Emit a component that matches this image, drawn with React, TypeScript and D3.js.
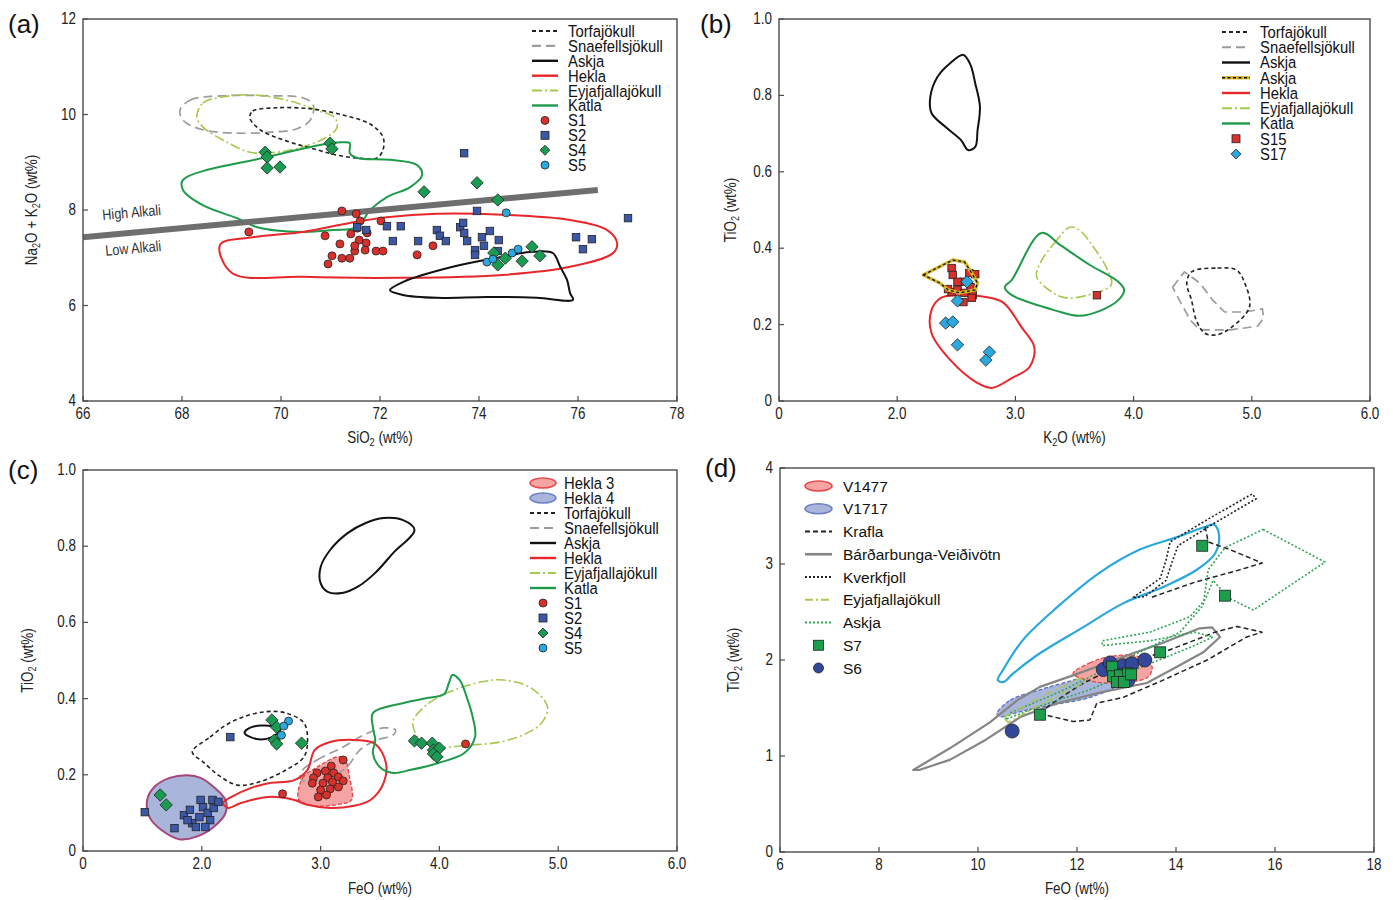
import React from 'react';
import * as d3 from 'd3';

type P = [number, number];

// ---------------- Panel (a): SiO2 vs Na2O+K2O ----------------
const aXTicks = [66, 68, 70, 72, 74, 76, 78];
const aYTicks = [4, 6, 8, 10, 12];
const aTorfa: P[] = [[69.37,9.93],[69.43,10.07],[69.92,10.14],[70.59,10.12],[71.25,9.99],[71.80,9.80],[72.06,9.53],[72.06,9.26],[71.94,9.09],[71.54,9.09],[71.13,9.15],[70.73,9.26],[70.04,9.47],[69.58,9.68]];
const aSnaef: P[] = [[67.96,10.09],[68.16,10.30],[68.77,10.39],[69.78,10.39],[70.44,10.35],[70.65,10.20],[70.59,9.88],[70.32,9.70],[69.78,9.63],[69.11,9.61],[68.42,9.68],[68.02,9.88]];
const aEyja: P[] = [[68.30,9.95],[68.42,10.24],[68.83,10.37],[69.43,10.41],[70.12,10.30],[70.73,10.09],[71.09,9.93],[71.13,9.72],[70.93,9.53],[70.44,9.32],[69.92,9.21],[69.37,9.21],[68.91,9.42],[68.42,9.74]];
const aKatla: P[] = [[68.02,8.63],[68.02,8.42],[68.42,8.10],[69.11,7.83],[69.52,7.64],[70.44,7.54],[71.05,7.58],[71.54,7.64],[71.80,8.00],[72.14,8.27],[72.61,8.48],[72.85,8.73],[72.75,8.94],[72.20,9.05],[71.54,9.09],[71.39,9.19],[71.39,9.40],[71.25,9.42],[70.99,9.40],[69.72,9.11]];
const aHekla: P[] = [[68.77,7.27],[69.01,6.68],[70.44,6.60],[72.46,6.58],[74.48,6.64],[75.84,6.81],[76.71,7.10],[76.79,7.31],[76.59,7.58],[75.84,7.79],[74.48,7.90],[73.15,7.92],[72.14,7.85],[71.39,7.73],[70.44,7.54],[69.43,7.43]];
const aAskja: P[] = [[72.20,6.32],[72.46,6.49],[73.47,6.81],[74.48,7.02],[75.03,7.12],[75.49,7.10],[75.64,6.81],[75.78,6.53],[75.84,6.26],[75.90,6.12],[75.17,6.16],[74.16,6.18],[73.15,6.16],[72.46,6.22]];
const aAlkali: P[] = [[66, 7.43], [76.4, 8.42]];
const aS1: P[] = [[69.35,7.54],[71.23,7.98],[71.52,7.92],[71.60,7.77],[71.54,7.62],[72.02,7.77],[70.89,7.46],[71.41,7.50],[71.58,7.37],[71.74,7.52],[71.72,7.31],[71.19,7.29],[71.03,7.04],[70.95,6.87],[71.23,6.99],[71.39,6.99],[71.49,7.14],[71.70,7.16],[71.92,7.14],[72.06,7.14],[72.75,7.06],[73.07,7.25],[71.49,7.25]];
const aS2: P[] = [[73.70,9.19],[73.96,7.98],[77.01,7.83],[72.14,7.66],[72.42,7.66],[72.77,7.35],[73.15,7.58],[73.21,7.46],[73.33,7.35],[73.62,7.64],[73.68,7.73],[73.70,7.52],[73.76,7.35],[74.06,7.43],[74.22,7.56],[74.40,7.37],[73.92,7.16],[73.92,7.06],[74.10,7.25],[74.38,7.14],[75.96,7.43],[76.10,7.18],[76.28,7.39],[71.54,7.64],[71.72,7.58],[72.26,7.35]];
const aS4: P[] = [[69.68,9.21],[69.72,9.11],[69.72,8.88],[69.98,8.90],[70.99,9.40],[71.03,9.28],[72.89,8.38],[73.96,8.57],[74.38,8.21],[74.30,7.10],[74.53,6.99],[74.38,6.85],[74.87,6.93],[75.07,7.23],[75.23,7.04]];
const aS5: P[] = [[74.55,7.94],[74.16,6.91],[74.67,7.10],[74.79,7.18],[74.28,6.97]];

// ---------------- Panel (b): K2O vs TiO2 ----------------
const bXTicks = [1, 2, 3, 4, 5, 6];
const bXLabels = ['0', '2.0', '3.0', '4.0', '5.0', '6.0'];
const bYTicks = [0, 0.2, 0.4, 0.6, 0.8, 1.0];
const bYLabels = ['0', '0.2', '0.4', '0.6', '0.8', '1.0'];
const bAskja: P[] = [[2.56,0.906],[2.45,0.885],[2.34,0.848],[2.28,0.796],[2.29,0.754],[2.41,0.717],[2.54,0.683],[2.60,0.657],[2.66,0.665],[2.68,0.709],[2.70,0.770],[2.66,0.832],[2.62,0.880]];
const bAskjaY: P[] = [[2.22,0.330],[2.47,0.369],[2.57,0.364],[2.63,0.335],[2.68,0.309],[2.66,0.291],[2.53,0.283],[2.43,0.291],[2.36,0.309]];
const bHekla: P[] = [[2.29,0.238],[2.29,0.178],[2.45,0.107],[2.68,0.047],[2.80,0.034],[2.97,0.060],[3.12,0.089],[3.16,0.141],[3.05,0.194],[2.90,0.257],[2.75,0.272],[2.52,0.277],[2.37,0.270]];
const bKatla: P[] = [[3.22,0.440],[2.97,0.317],[2.91,0.298],[2.97,0.277],[3.35,0.236],[3.54,0.223],[3.73,0.238],[3.87,0.264],[3.92,0.291],[3.87,0.312],[3.63,0.356],[3.38,0.408]];
const bEyja: P[] = [[3.46,0.455],[3.35,0.421],[3.21,0.361],[3.18,0.325],[3.32,0.283],[3.43,0.270],[3.61,0.277],[3.81,0.304],[3.78,0.343],[3.66,0.403],[3.54,0.448]];
const bTorfa: P[] = [[4.49,0.338],[4.71,0.348],[4.87,0.343],[4.94,0.309],[4.98,0.246],[4.82,0.191],[4.70,0.173],[4.60,0.178],[4.53,0.212],[4.49,0.264],[4.45,0.309]];
const bSnaef: P[] = [[4.33,0.298],[4.43,0.338],[4.56,0.309],[4.67,0.264],[4.77,0.233],[4.94,0.233],[5.09,0.241],[5.10,0.217],[5.05,0.196],[4.82,0.186],[4.56,0.186],[4.48,0.212],[4.40,0.257]];
const bS15: P[] = [[2.46,0.348],[2.47,0.330],[2.56,0.312],[2.61,0.335],[2.66,0.332],[2.51,0.312],[2.62,0.298],[2.46,0.285],[2.51,0.291],[2.57,0.283],[2.64,0.277],[2.56,0.259],[2.63,0.270],[2.43,0.293],[3.69,0.277]];
const bS17: P[] = [[2.59,0.312],[2.51,0.262],[2.41,0.204],[2.47,0.207],[2.51,0.147],[2.78,0.128],[2.75,0.107]];

// ---------------- Panel (c): FeO vs TiO2 ----------------
const cXTicks = [1, 2, 3, 4, 5, 6];
const cXLabels = ['0', '2.0', '3.0', '4.0', '5.0', '6.0'];
const cYTicks = [0, 0.2, 0.4, 0.6, 0.8, 1.0];
const cYLabels = ['0', '0.2', '0.4', '0.6', '0.8', '1.0'];
const cHekla4: P[] = [[1.54,0.134],[1.60,0.168],[1.73,0.192],[1.88,0.199],[1.99,0.192],[2.10,0.168],[2.20,0.134],[2.20,0.100],[2.10,0.063],[1.95,0.037],[1.81,0.031],[1.66,0.055],[1.56,0.089]];
const cHekla3: P[] = [[2.81,0.139],[2.85,0.192],[2.97,0.220],[3.14,0.247],[3.20,0.244],[3.24,0.199],[3.26,0.134],[3.16,0.123],[2.97,0.118],[2.84,0.129]];
const cTorfa: P[] = [[1.92,0.260],[2.07,0.299],[2.25,0.339],[2.52,0.365],[2.71,0.362],[2.86,0.336],[2.89,0.291],[2.86,0.247],[2.71,0.213],[2.48,0.181],[2.30,0.173],[2.14,0.199],[2.01,0.234]];
const cSnaef: P[] = [[2.85,0.213],[2.97,0.239],[3.19,0.273],[3.36,0.304],[3.53,0.323],[3.63,0.318],[3.61,0.304],[3.47,0.291],[3.33,0.265],[3.22,0.220],[3.08,0.194],[2.89,0.181],[2.83,0.192]];
const cAskja: P[] = [[3.79,0.843],[3.69,0.869],[3.53,0.874],[3.38,0.861],[3.23,0.835],[3.08,0.790],[3.00,0.745],[3.00,0.703],[3.06,0.680],[3.18,0.677],[3.31,0.693],[3.46,0.730],[3.61,0.782]];
const cAskja2: P[] = [[2.36,0.310],[2.42,0.325],[2.59,0.328],[2.66,0.318],[2.59,0.299],[2.46,0.294]];
const cHekla: P[] = [[2.18,0.126],[2.25,0.142],[2.41,0.165],[2.56,0.178],[2.78,0.186],[2.89,0.213],[2.95,0.265],[3.08,0.286],[3.31,0.291],[3.46,0.281],[3.55,0.231],[3.53,0.178],[3.42,0.134],[3.27,0.118],[3.08,0.113],[2.89,0.121],[2.78,0.134],[2.56,0.142],[2.33,0.126],[2.22,0.113]];
const cKatla: P[] = [[3.44,0.362],[3.69,0.388],[3.91,0.402],[4.04,0.412],[4.08,0.441],[4.11,0.462],[4.17,0.449],[4.23,0.404],[4.28,0.352],[4.30,0.299],[4.21,0.257],[3.99,0.231],[3.76,0.213],[3.61,0.205],[3.50,0.220],[3.44,0.257],[3.46,0.291],[3.44,0.325]];
const cEyja: P[] = [[3.78,0.344],[3.91,0.388],[4.13,0.423],[4.36,0.444],[4.54,0.449],[4.77,0.428],[4.91,0.378],[4.86,0.336],[4.74,0.310],[4.51,0.286],[4.25,0.278],[3.98,0.273],[3.84,0.291],[3.78,0.325]];
const cS1: P[] = [[3.19,0.239],[3.09,0.223],[3.04,0.210],[3.11,0.205],[2.97,0.205],[2.94,0.192],[3.06,0.192],[3.15,0.194],[3.19,0.184],[3.10,0.181],[3.02,0.178],[2.93,0.178],[3.15,0.168],[3.08,0.163],[3.00,0.160],[3.05,0.147],[2.98,0.142],[2.68,0.150],[4.22,0.281]];
const cS2: P[] = [[1.52,0.102],[1.77,0.060],[1.85,0.094],[1.90,0.108],[1.92,0.073],[1.99,0.134],[2.01,0.115],[2.05,0.100],[2.07,0.081],[1.98,0.089],[2.09,0.134],[2.10,0.113],[2.14,0.129],[1.95,0.063],[2.03,0.063],[1.88,0.081],[2.24,0.299]];
const cS4: P[] = [[1.65,0.147],[1.70,0.121],[2.59,0.344],[2.63,0.325],[2.61,0.291],[2.63,0.281],[2.84,0.283],[3.79,0.289],[3.85,0.283],[3.94,0.283],[3.95,0.265],[4.00,0.270],[3.95,0.255],[3.98,0.247]];
const cS5: P[] = [[2.73,0.341],[2.69,0.328],[2.67,0.304]];

// ---------------- Panel (d): FeO vs TiO2 (basaltic) ----------------
const dXTicks = [6, 8, 10, 12, 14, 16, 18];
const dYTicks = [0, 1, 2, 3, 4];
const dV1477: P[] = [[11.92,1.86],[12.26,1.97],[12.61,2.03],[13.07,2.05],[13.41,2.00],[13.52,1.92],[13.43,1.82],[13.07,1.77],[12.61,1.76],[12.20,1.79]];
const dV1717: P[] = [[10.38,1.44],[10.65,1.58],[11.25,1.69],[11.92,1.79],[12.61,1.90],[13.07,1.94],[13.21,1.875],[12.93,1.76],[12.26,1.61],[11.60,1.54],[10.91,1.47],[10.44,1.41]];
const dBlue: P[] = [[10.40,1.79],[10.51,1.90],[10.91,2.21],[11.60,2.55],[12.46,2.91],[13.27,3.15],[14.02,3.28],[14.55,3.38],[14.77,3.41],[14.87,3.30],[14.79,3.11],[14.42,2.94],[13.74,2.76],[12.93,2.59],[12.12,2.34],[11.25,2.07],[10.71,1.86],[10.51,1.77]];
const dBardar: P[] = [[8.69,0.854],[9.43,1.08],[10.24,1.35],[10.79,1.58],[11.25,1.72],[11.92,1.84],[12.61,1.97],[13.13,2.07],[13.74,2.18],[14.48,2.33],[14.73,2.34],[14.89,2.24],[14.55,2.08],[14.02,1.93],[13.41,1.76],[12.46,1.66],[11.60,1.55],[10.87,1.41],[10.16,1.17],[9.43,0.96],[8.81,0.854]];
const dKrafla: P[] = [[11.25,1.44],[11.92,1.36],[12.26,1.375],[12.40,1.55],[12.93,1.61],[13.74,1.79],[14.63,2.00],[15.43,2.24],[15.74,2.29],[15.23,2.35],[14.79,2.29],[14.55,2.24],[13.74,2.08],[12.87,1.95],[12.06,1.74],[11.45,1.53]];
const dKraflaUp: P[] = [[14.59,3.39],[14.65,3.23],[15.09,3.15],[15.74,3.01],[15.29,2.94],[14.38,2.81],[13.49,2.65]];
const dKverk: P[] = [[13.13,2.65],[13.68,2.85],[13.80,3.04],[13.88,3.23],[14.69,3.48],[15.54,3.73],[15.62,3.68],[14.79,3.43],[14.04,3.19],[13.92,3.02],[13.80,2.83],[13.37,2.66]];
const dEyja: P[] = [[10.51,1.40],[11.25,1.61],[12.06,1.81],[12.16,1.77],[11.35,1.56],[10.61,1.35]];
const dAskja: P[] = [[15.76,3.36],[17.01,3.02],[15.56,2.52],[15.05,2.65],[14.75,2.83],[14.59,2.63],[14.28,2.45],[13.47,2.29],[12.51,2.20],[12.51,2.15],[13.47,2.20],[14.38,2.29],[14.75,2.24],[14.28,2.13],[13.27,1.92],[12.26,1.69],[11.25,1.52],[10.55,1.38],[10.65,1.45],[11.66,1.67],[12.87,1.98],[14.08,2.29],[14.55,2.57],[14.65,2.94],[14.99,3.17]];
const dS7: P[] = [[14.53,3.19],[14.99,2.67],[13.68,2.08],[11.25,1.43],[12.71,1.93],[12.73,1.83],[12.87,1.84],[13.03,1.86],[12.81,1.77],[12.95,1.77],[13.09,1.85]];
const dS6: P[] = [[12.53,1.90],[12.67,1.97],[12.93,1.94],[13.11,1.96],[13.37,2.00],[12.83,1.84],[13.03,1.79],[10.69,1.26]];

// ---------------- styles ----------------
const FONT = "'Liberation Sans Narrow', 'Arial Narrow', 'Liberation Sans', Arial, sans-serif";
const FONT_D = "'Liberation Sans', Arial, sans-serif";

interface LS { stroke: string; width: number; dash?: string; under?: { stroke: string; width: number } }
const ST: Record<string, LS> = {
  torfa: { stroke: '#222', width: 1.6, dash: '4,3' },
  snaef: { stroke: '#9c9c9c', width: 1.7, dash: '9,5' },
  askja: { stroke: '#111', width: 2 },
  askjaY: { stroke: '#111', width: 1.3, dash: '3,2.5', under: { stroke: '#d9b92c', width: 3.4 } },
  hekla: { stroke: '#e8262b', width: 2 },
  eyja: { stroke: '#a7c84e', width: 1.6, dash: '10,3,2,3' },
  katla: { stroke: '#1f9a4a', width: 2 },
  krafla: { stroke: '#222', width: 1.5, dash: '5,3' },
  bardar: { stroke: '#858585', width: 2.2 },
  kverk: { stroke: '#222', width: 1.6, dash: '2,2' },
  askjaD: { stroke: '#2ea655', width: 1.6, dash: '2,2' },
  eyjaD: { stroke: '#a7c84e', width: 1.5, dash: '8,3,2,3' },
  blue: { stroke: '#2aa8de', width: 2.2 },
};
const MC: Record<string, string> = {
  S1: '#d9302c', S2: '#3b58a8', S4: '#1b9a52', S5: '#2aa8df',
  S15: '#d9302c', S17: '#2aa8df', S7: '#1c9e4c', S6: '#34489a',
};

type Sc = d3.ScaleLinear<number, number>;

function Shape({ pts, x, y, st, closed = true, smooth = true, fill }: { pts: P[]; x: Sc; y: Sc; st?: LS; closed?: boolean; smooth?: boolean; fill?: string }) {
  const curve = closed
    ? (smooth ? d3.curveCatmullRomClosed.alpha(0.5) : d3.curveLinearClosed)
    : (smooth ? d3.curveCatmullRom.alpha(0.5) : d3.curveLinear);
  const d = d3.line<P>().x((p) => x(p[0])).y((p) => y(p[1])).curve(curve)(pts) || '';
  return (
    <g>
      {fill && <path d={d} fill={fill} stroke="none" />}
      {st && st.under && <path d={d} fill="none" stroke={st.under.stroke} strokeWidth={st.under.width} strokeLinejoin="round" />}
      {st && <path d={d} fill="none" stroke={st.stroke} strokeWidth={st.width} strokeDasharray={st.dash} strokeLinejoin="round" />}
    </g>
  );
}

function Marker({ shape, cx, cy, s, fill }: { shape: string; cx: number; cy: number; s: number; fill: string }) {
  const sw = 0.8;
  if (shape === 'circle') return <circle cx={cx} cy={cy} r={s / 2} fill={fill} stroke="#222" strokeWidth={sw} />;
  if (shape === 'square') return <rect x={cx - s / 2} y={cy - s / 2} width={s} height={s} fill={fill} stroke="#222" strokeWidth={sw} />;
  const h = s * 0.62;
  return <path d={`M${cx},${cy - h}L${cx + h},${cy}L${cx},${cy + h}L${cx - h},${cy}Z`} fill={fill} stroke="#222" strokeWidth={sw} />;
}

function Points({ pts, x, y, shape, s, fill }: { pts: P[]; x: Sc; y: Sc; shape: string; s: number; fill: string }) {
  return <g>{pts.map((p, i) => <Marker key={i} shape={shape} cx={x(p[0])} cy={y(p[1])} s={s} fill={fill} />)}</g>;
}

function Chem({ text }: { text: string }) {
  const parts = text.split('₂');
  const out: React.ReactNode[] = [];
  parts.forEach((p, i) => {
    out.push(<tspan key={'t' + i} dy={i > 0 ? -3 : 0}>{p}</tspan>);
    if (i < parts.length - 1) out.push(<tspan key={'s' + i} fontSize="0.68em" dy={3}>2</tspan>);
  });
  return <>{out}</>;
}

// condensed text: horizontally scaled to imitate a narrow typeface
function CText({ x, y, anchor = 'start', fs, rot = 0, k = 0.84, children, fill = '#222' }: { x: number; y: number; anchor?: string; fs: number; rot?: number; k?: number; children: React.ReactNode; fill?: string }) {
  return (
    <text transform={`translate(${x},${y}) rotate(${rot}) scale(${k},1)`} textAnchor={anchor} fontFamily={FONT} fontSize={fs} fill={fill}>{children}</text>
  );
}

interface Frame { l: number; r: number; t: number; b: number }
interface PanelProps {
  f: Frame; xd: [number, number]; yd: [number, number];
  xt: number[]; xl?: string[]; yt: number[]; yl?: string[];
  xTitle: string; yTitle: string; xTitleY: number; yTitleX: number;
  label: string; labelX: number; labelY: number;
  children: (x: Sc, y: Sc) => React.ReactNode;
}
function Panel(p: PanelProps) {
  const x = d3.scaleLinear().domain(p.xd).range([p.f.l, p.f.r]);
  const y = d3.scaleLinear().domain(p.yd).range([p.f.b, p.f.t]);
  return (
    <g>
      {p.children(x, y)}
      <rect x={p.f.l} y={p.f.t} width={p.f.r - p.f.l} height={p.f.b - p.f.t} fill="none" stroke="#4a4a4a" strokeWidth={1.4} />
      {p.xt.map((v, i) => (
        <g key={'x' + i}>
          <line x1={x(v)} x2={x(v)} y1={p.f.b} y2={p.f.b - 5} stroke="#4a4a4a" strokeWidth={1.2} />
          <CText x={x(v)} y={p.f.b + 18} anchor="middle" fs={16}>{p.xl ? p.xl[i] : String(v)}</CText>
        </g>
      ))}
      {p.yt.map((v, i) => (
        <g key={'y' + i}>
          <line x1={p.f.l} x2={p.f.l + 5} y1={y(v)} y2={y(v)} stroke="#4a4a4a" strokeWidth={1.2} />
          <CText x={p.f.l - 7} y={y(v) + 5} anchor="end" fs={16}>{p.yl ? p.yl[i] : String(v)}</CText>
        </g>
      ))}
      <CText x={(p.f.l + p.f.r) / 2} y={p.xTitleY} anchor="middle" fs={16}><Chem text={p.xTitle} /></CText>
      <CText x={p.yTitleX} y={(p.f.t + p.f.b) / 2} rot={-90} anchor="middle" fs={16}><Chem text={p.yTitle} /></CText>
      <text x={p.labelX} y={p.labelY} fontFamily={FONT_D} fontSize={26} fill="#111">{p.label}</text>
    </g>
  );
}

interface LegItem { t: string; k: 'line' | 'mk' | 'ell'; s?: string; m?: string; c?: string; fill?: string; stroke?: string }
function Legend({ items, x0, y0, dy, w, tx, fs, condensed, ms }: { items: LegItem[]; x0: number; y0: number; dy: number; w: number; tx: number; fs: number; condensed: boolean; ms: number }) {
  return (
    <g>
      {items.map((it, i) => {
        const yy = y0 + i * dy;
        let sym: React.ReactNode = null;
        if (it.k === 'line') {
          const st = ST[it.s!];
          sym = (
            <g>
              {st.under && <line x1={x0} x2={x0 + w} y1={yy} y2={yy} stroke={st.under.stroke} strokeWidth={st.under.width} />}
              <line x1={x0} x2={x0 + w} y1={yy} y2={yy} stroke={st.stroke} strokeWidth={st.width + 0.4} strokeDasharray={st.dash} />
            </g>
          );
        } else if (it.k === 'mk') {
          sym = <Marker shape={it.m!} cx={x0 + w / 2} cy={yy} s={ms} fill={MC[it.c!]} />;
        } else {
          sym = <ellipse cx={x0 + w / 2} cy={yy} rx={w / 2} ry={5} fill={it.fill} stroke={it.stroke} strokeWidth={1.5} />;
        }
        return (
          <g key={i}>
            {sym}
            {condensed
              ? <CText x={tx} y={yy + fs * 0.36} fs={fs} k={0.9} fill="#111">{it.t}</CText>
              : <text x={tx} y={yy + fs * 0.36} fontFamily={FONT_D} fontSize={fs} fill="#111">{it.t}</text>}
          </g>
        );
      })}
    </g>
  );
}

const legA: LegItem[] = [
  { t: 'Torfajökull', k: 'line', s: 'torfa' },
  { t: 'Snaefellsjökull', k: 'line', s: 'snaef' },
  { t: 'Askja', k: 'line', s: 'askja' },
  { t: 'Hekla', k: 'line', s: 'hekla' },
  { t: 'Eyjafjallajökull', k: 'line', s: 'eyja' },
  { t: 'Katla', k: 'line', s: 'katla' },
  { t: 'S1', k: 'mk', m: 'circle', c: 'S1' },
  { t: 'S2', k: 'mk', m: 'square', c: 'S2' },
  { t: 'S4', k: 'mk', m: 'diamond', c: 'S4' },
  { t: 'S5', k: 'mk', m: 'circle', c: 'S5' },
];
const legB: LegItem[] = [
  { t: 'Torfajökull', k: 'line', s: 'torfa' },
  { t: 'Snaefellsjökull', k: 'line', s: 'snaef' },
  { t: 'Askja', k: 'line', s: 'askja' },
  { t: 'Askja', k: 'line', s: 'askjaY' },
  { t: 'Hekla', k: 'line', s: 'hekla' },
  { t: 'Eyjafjallajökull', k: 'line', s: 'eyja' },
  { t: 'Katla', k: 'line', s: 'katla' },
  { t: 'S15', k: 'mk', m: 'square', c: 'S15' },
  { t: 'S17', k: 'mk', m: 'diamond', c: 'S17' },
];
const H3FILL = '#f5a3a3';
const H4FILL = '#aab5dc';
const legC: LegItem[] = [
  { t: 'Hekla 3', k: 'ell', fill: H3FILL, stroke: '#e6474a' },
  { t: 'Hekla 4', k: 'ell', fill: H4FILL, stroke: '#6f7fc4' },
  ...legA,
];
const legD: LegItem[] = [
  { t: 'V1477', k: 'ell', fill: H3FILL, stroke: '#e6474a' },
  { t: 'V1717', k: 'ell', fill: H4FILL, stroke: '#6f7fc4' },
  { t: 'Krafla', k: 'line', s: 'krafla' },
  { t: 'Bárðarbunga-Veiðivötn', k: 'line', s: 'bardar' },
  { t: 'Kverkfjoll', k: 'line', s: 'kverk' },
  { t: 'Eyjafjallajökull', k: 'line', s: 'eyjaD' },
  { t: 'Askja', k: 'line', s: 'askjaD' },
  { t: 'S7', k: 'mk', m: 'square', c: 'S7' },
  { t: 'S6', k: 'mk', m: 'circle', c: 'S6' },
];

export default function App() {
  return (
    <svg width={1393} height={900} style={{ position: 'absolute', left: 0, top: 0, background: '#fff' }}>
      <rect width={1393} height={900} fill="#fff" />
      {/* (a) */}
      <Panel f={{ l: 83, r: 677, t: 19, b: 401 }} xd={[66, 78]} yd={[4, 12]} xt={aXTicks} yt={aYTicks}
        xTitle="SiO₂ (wt%)" yTitle="Na₂O + K₂O (wt%)" xTitleY={443} yTitleX={37} label="(a)" labelX={8} labelY={33}>
        {(x, y) => (
          <g>
            <Shape pts={aSnaef} x={x} y={y} st={ST.snaef} />
            <Shape pts={aEyja} x={x} y={y} st={ST.eyja} />
            <Shape pts={aTorfa} x={x} y={y} st={ST.torfa} />
            <Shape pts={aKatla} x={x} y={y} st={ST.katla} />
            <Shape pts={aHekla} x={x} y={y} st={ST.hekla} />
            <Shape pts={aAskja} x={x} y={y} st={ST.askja} />
            <Shape pts={aAlkali} x={x} y={y} st={{ stroke: '#6e6e6e', width: 6 }} closed={false} smooth={false} />
            <CText x={x(66.4)} y={y(7.79)} rot={-5} fs={15} fill="#333">High Alkali</CText>
            <CText x={x(66.46)} y={y(7.04)} rot={-5} fs={15} fill="#333">Low Alkali</CText>
            <Points pts={aS1} x={x} y={y} shape="circle" s={8} fill={MC.S1} />
            <Points pts={aS2} x={x} y={y} shape="square" s={7.5} fill={MC.S2} />
            <Points pts={aS4} x={x} y={y} shape="diamond" s={10} fill={MC.S4} />
            <Points pts={aS5} x={x} y={y} shape="circle" s={8} fill={MC.S5} />
          </g>
        )}
      </Panel>
      <Legend items={legA} x0={532} y0={31} dy={14.9} w={26} tx={568} fs={16.5} condensed={true} ms={8} />

      {/* (b) */}
      <Panel f={{ l: 779, r: 1370, t: 19, b: 401 }} xd={[1, 6]} yd={[0, 1]} xt={bXTicks} xl={bXLabels} yt={bYTicks} yl={bYLabels}
        xTitle="K₂O (wt%)" yTitle="TiO₂ (wt%)" xTitleY={443} yTitleX={736} label="(b)" labelX={700} labelY={33}>
        {(x, y) => (
          <g>
            <Shape pts={bAskja} x={x} y={y} st={ST.askja} />
            <Shape pts={bHekla} x={x} y={y} st={ST.hekla} />
            <Shape pts={bEyja} x={x} y={y} st={ST.eyja} />
            <Shape pts={bKatla} x={x} y={y} st={ST.katla} />
            <Shape pts={bSnaef} x={x} y={y} st={ST.snaef} smooth={false} />
            <Shape pts={bTorfa} x={x} y={y} st={ST.torfa} />
            <Points pts={bS15} x={x} y={y} shape="square" s={7.5} fill={MC.S15} />
            <Shape pts={bAskjaY} x={x} y={y} st={ST.askjaY} smooth={false} />
            <Points pts={bS17} x={x} y={y} shape="diamond" s={10} fill={MC.S17} />
          </g>
        )}
      </Panel>
      <Legend items={legB} x0={1222} y0={32} dy={15.25} w={28} tx={1260} fs={16.5} condensed={true} ms={8} />

      {/* (c) */}
      <Panel f={{ l: 83, r: 677, t: 470, b: 851 }} xd={[1, 6]} yd={[0, 1]} xt={cXTicks} xl={cXLabels} yt={cYTicks} yl={cYLabels}
        xTitle="FeO (wt%)" yTitle="TiO₂ (wt%)" xTitleY={894} yTitleX={33} label="(c)" labelX={8} labelY={479}>
        {(x, y) => (
          <g>
            <Shape pts={cHekla4} x={x} y={y} fill={H4FILL} st={{ stroke: '#a8457a', width: 2 }} />
            <Shape pts={cHekla3} x={x} y={y} fill={H3FILL} st={{ stroke: '#e6474a', width: 1.4, dash: '4,2' }} />
            <Shape pts={cTorfa} x={x} y={y} st={ST.torfa} />
            <Shape pts={cSnaef} x={x} y={y} st={ST.snaef} />
            <Shape pts={cAskja} x={x} y={y} st={ST.askja} />
            <Shape pts={cAskja2} x={x} y={y} st={ST.askja} />
            <Shape pts={cHekla} x={x} y={y} st={ST.hekla} />
            <Shape pts={cEyja} x={x} y={y} st={ST.eyja} />
            <Shape pts={cKatla} x={x} y={y} st={ST.katla} />
            <Points pts={cS2} x={x} y={y} shape="square" s={7.5} fill={MC.S2} />
            <Points pts={cS4} x={x} y={y} shape="diamond" s={10} fill={MC.S4} />
            <Points pts={cS5} x={x} y={y} shape="circle" s={8} fill={MC.S5} />
            <Points pts={cS1} x={x} y={y} shape="circle" s={8} fill={MC.S1} />
          </g>
        )}
      </Panel>
      <Legend items={legC} x0={530} y0={483} dy={15} w={26} tx={564} fs={16.5} condensed={true} ms={8} />

      {/* (d) */}
      <Panel f={{ l: 780, r: 1374, t: 468, b: 852 }} xd={[6, 18]} yd={[0, 4]} xt={dXTicks} yt={dYTicks}
        xTitle="FeO (wt%)" yTitle="TiO₂ (wt%)" xTitleY={894} yTitleX={739} label="(d)" labelX={705} labelY={477}>
        {(x, y) => (
          <g>
            <Shape pts={dV1717} x={x} y={y} fill={H4FILL} st={{ stroke: '#5a6ec2', width: 1.3, dash: '4,2' }} />
            <Shape pts={dV1477} x={x} y={y} fill={H3FILL} st={{ stroke: '#e6474a', width: 1.3, dash: '4,2' }} />
            <Shape pts={dBlue} x={x} y={y} st={ST.blue} />
            <Shape pts={dBardar} x={x} y={y} st={ST.bardar} smooth={false} />
            <Shape pts={dKrafla} x={x} y={y} st={ST.krafla} smooth={false} />
            <Shape pts={dKraflaUp} x={x} y={y} st={ST.krafla} closed={false} smooth={false} />
            <Shape pts={dKverk} x={x} y={y} st={ST.kverk} smooth={false} />
            <Shape pts={dAskja} x={x} y={y} st={ST.askjaD} smooth={false} />
            <Shape pts={dEyja} x={x} y={y} st={ST.eyjaD} smooth={false} />
            <Points pts={dS6} x={x} y={y} shape="circle" s={14} fill={MC.S6} />
            <Points pts={dS7} x={x} y={y} shape="square" s={11} fill={MC.S7} />
          </g>
        )}
      </Panel>
      <Legend items={legD} x0={805} y0={486} dy={22.75} w={27} tx={843} fs={15.5} condensed={false} ms={10} />
    </svg>
  );
}
